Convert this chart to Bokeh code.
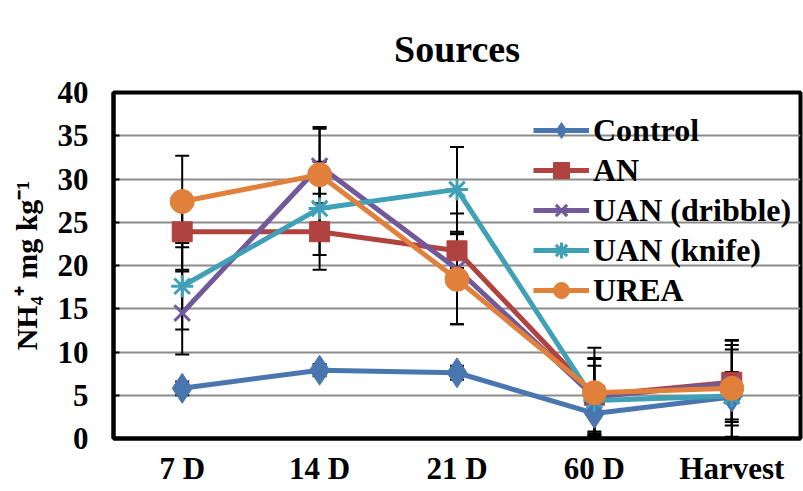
from bokeh.plotting import figure
from bokeh.models import ColumnDataSource, Whisker, Legend, LegendItem, FactorRange, FixedTicker
from bokeh.embed import file_html
from bokeh.resources import INLINE

# Sampling dates
stages = ["7 D", "14 D", "21 D", "60 D", "Harvest"]

# NH4+ concentration (mg/kg) by nitrogen source
control = [5.8, 7.9, 7.6, 2.9, 4.8]
an = [23.9, 23.9, 21.7, 5.0, 6.5]
uan_dribble = [14.5, 31.5, 19.6, 4.8, 6.4]
uan_knife = [17.6, 26.6, 28.8, 4.4, 4.9]
urea = [27.4, 30.5, 18.4, 5.3, 5.8]

# Standard errors
control_err = [0.8, 0.7, 0.8, 2.3, 2.9]
an_err = [4.4, 4.4, 2.0, 4.2, 4.3]
uan_dribble_err = [4.8, 4.3, 6.4, 4.5, 4.9]
uan_knife_err = [5.0, 5.4, 4.9, 4.0, 5.4]
urea_err = [5.3, 5.5, 5.2, 5.2, 5.6]

series = [
    ("Control", control, control_err, "#4A76B0", "diamond"),
    ("AN", an, an_err, "#B0433F", "square"),
    ("UAN (dribble)", uan_dribble, uan_dribble_err, "#72599A", "x"),
    ("UAN (knife)", uan_knife, uan_knife_err, "#3FA0B6", "asterisk"),
    ("UREA", urea, urea_err, "#E0803A", "circle"),
]

FONT = "'Liberation Serif', 'Times New Roman', serif"

p = figure(width=803, height=491, x_range=FactorRange(*stages), y_range=(0, 40),
           output_backend="svg", toolbar_location=None,
           min_border_left=113, min_border_right=3, min_border_top=92, min_border_bottom=53)

p.title.text = "Sources"
p.title.text_font = FONT
p.title.text_font_size = "38px"
p.title.text_font_style = "bold"
p.title.text_color = "black"
p.title.align = "center"
p.title.offset = -36
p.title.standoff = 46

p.outline_line_color = "black"
p.outline_line_width = 4
p.background_fill_color = "white"
p.border_fill_color = "white"

p.xgrid.grid_line_color = None
p.ygrid.grid_line_color = "#8c8c8c"
p.ygrid.grid_line_width = 2
p.yaxis.ticker = FixedTicker(ticks=[0, 5, 10, 15, 20, 25, 30, 35, 40])

for ax in (p.xaxis[0], p.yaxis[0]):
    ax.axis_line_width = 4
    ax.axis_line_color = "black"
    ax.major_label_text_font = FONT
    ax.major_label_text_font_size = "31px"
    ax.major_label_text_font_style = "bold"
    ax.major_label_text_color = "black"
    ax.minor_tick_line_color = None

p.xaxis.major_tick_line_color = None
p.xaxis.major_label_standoff = 6
p.yaxis.major_tick_in = 6
p.yaxis.major_tick_out = 0
p.yaxis.major_tick_line_width = 2
p.yaxis.major_label_standoff = 25

p.yaxis.axis_label = "NH\u2084\u207a mg kg\u207b\u00b9"
p.yaxis.axis_label_text_font = FONT
p.yaxis.axis_label_text_font_size = "30px"
p.yaxis.axis_label_text_font_style = "bold"
p.yaxis.axis_label_text_color = "black"
p.yaxis.axis_label_standoff = 12

for name, vals, errs, color, marker in series:
    src = ColumnDataSource(dict(
        x=stages, y=vals,
        upper=[v + e for v, e in zip(vals, errs)],
        lower=[max(v - e, 0) for v, e in zip(vals, errs)],
    ))
    w = Whisker(source=src, base="x", upper="upper", lower="lower",
                line_color="black", line_width=2)
    w.upper_head.size = 14
    w.lower_head.size = 14
    w.upper_head.line_width = 2
    w.lower_head.line_width = 2
    p.add_layout(w)

items = []
for name, vals, errs, color, marker in series:
    src = ColumnDataSource(dict(x=stages, y=vals))
    line = p.line("x", "y", source=src, line_color=color, line_width=5)
    if marker in ("x", "asterisk"):
        m = p.scatter("x", "y", source=src, marker=marker, size=22,
                      line_color=color, line_width=3, fill_color=color)
    else:
        size = {"diamond": 30, "square": 20, "circle": 24}[marker]
        m = p.scatter("x", "y", source=src, marker=marker, size=size,
                      line_color=color, fill_color=color)
    items.append(LegendItem(label=name, renderers=[line, m]))

legend = Legend(items=items, location=(420, 128), border_line_color=None,
                background_fill_alpha=0, label_text_font=FONT,
                label_text_font_size="32px", label_text_font_style="bold",
                label_text_color="black",
                glyph_width=56, glyph_height=40, label_height=40,
                spacing=0, padding=0, label_standoff=4, margin=0)
p.add_layout(legend)

open("out.html", "w").write(file_html(p, INLINE))
